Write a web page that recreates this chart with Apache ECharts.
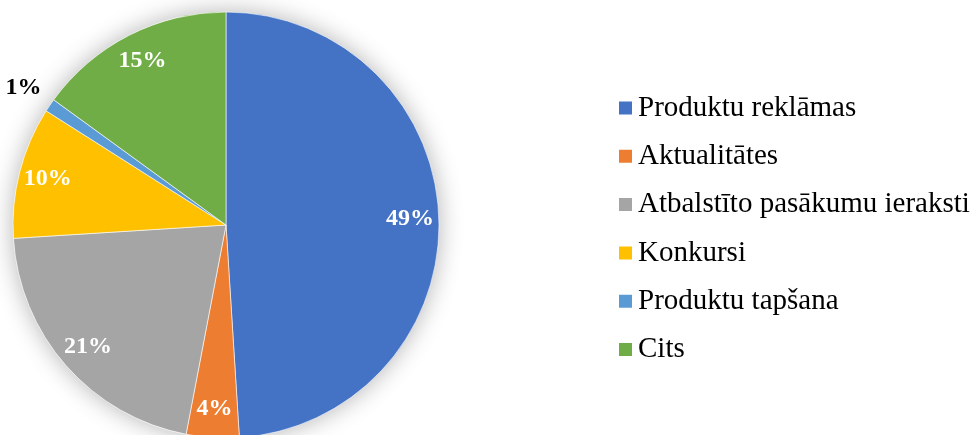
<!DOCTYPE html>
<html>
<head>
<meta charset="utf-8">
<script src="https://cdn.jsdelivr.net/npm/echarts@6/dist/echarts.min.js"></script>
<style>
  html, body { margin: 0; padding: 0; background: #fff; }
  #chart { width: 975px; height: 435px; }
</style>
</head>
<body>
<div id="chart"></div>
<script>
// chart data
const categories = ['Produktu reklāmas', 'Aktualitātes', 'Atbalstīto pasākumu ieraksti', 'Konkursi', 'Produktu tapšana', 'Cits'];
const values = [49, 4, 21, 10, 1, 15];
const colors = ['#4472C4', '#ED7D31', '#A5A5A5', '#FFC000', '#5B9BD5', '#70AD47'];

const chart = echarts.init(document.getElementById('chart'));
const CENTER = [226, 225];
const R = 213;
const serif = '"Liberation Serif", "Times New Roman", serif';

// transparent ring used only to place labels at its mid radius
function labelRing(r0, r1, color, keep) {
  return {
    type: 'pie',
    silent: true,
    center: CENTER,
    radius: [r0, r1],
    startAngle: 90,
    clockwise: true,
    z: 3,
    itemStyle: { color: 'rgba(0,0,0,0)' },
    labelLine: { show: false },
    label: {
      show: true, position: 'inside', formatter: '{d}%', overflow: 'none',
      fontFamily: serif, fontWeight: 'bold', fontSize: 24, color: color
    },
    data: categories.map(function (name, i) {
      return { name: name, value: values[i], label: { show: keep(values[i]) } };
    })
  };
}

const option = {
  animation: false,
  backgroundColor: '#fff',
  legend: {
    data: categories,
    orient: 'vertical',
    left: 617,
    top: 93,
    padding: 0,
    icon: 'rect',
    itemWidth: 15,
    itemHeight: 15,
    itemGap: 18.3,
    textStyle: { fontFamily: serif, fontSize: 29, color: '#000', lineHeight: 30 },
    selectedMode: false
  },
  series: [
    { // soft shadow under the whole pie
      type: 'pie',
      silent: true,
      center: CENTER,
      radius: [0, R],
      z: 1,
      label: { show: false },
      labelLine: { show: false },
      itemStyle: { color: '#fff', shadowBlur: 24, shadowColor: 'rgba(0,0,0,0.3)' },
      data: [{ name: '', value: 1 }]
    },
    {
      type: 'pie',
      center: CENTER,
      radius: [0, R],
      startAngle: 90,
      clockwise: true,
      z: 2,
      itemStyle: { borderColor: '#fff', borderWidth: 0.6 },
      label: { show: false },
      labelLine: { show: false },
      data: categories.map(function (name, i) {
        return { name: name, value: values[i], itemStyle: { color: colors[i] } };
      })
    },
    // white labels near the rim, small slice label outside in black
    labelRing(R * 0.7, R, '#fff', function (v) { return v >= 2; }),
    labelRing(R, R * 1.27, '#000', function (v) { return v < 2; })
  ]
};

chart.setOption(option);
</script>
</body>
</html>
